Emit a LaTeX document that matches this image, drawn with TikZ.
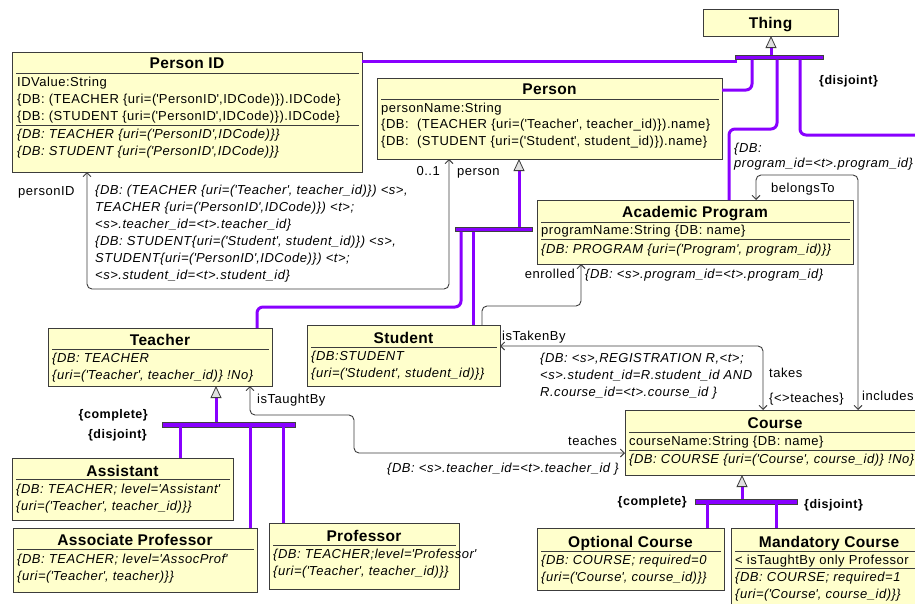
\documentclass[tikz,border=0pt]{standalone}
\usepackage{fontspec}
\usetikzlibrary{arrows.meta,calc}
\newfontfamily\umlfont{Liberation Sans}[LetterSpace=4]
\newfontfamily\umltitlefont{Liberation Sans}[LetterSpace=2]
\newcommand\fbody{\umlfont\fontsize{13}{15}\selectfont}
\newcommand\fital{\umlfont\itshape\fontsize{13}{15}\selectfont}
\newcommand\fbold{\umlfont\bfseries\fontsize{12.5}{15}\selectfont}
\newcommand\ftitle{\umltitlefont\bfseries\fontsize{15.5}{18}\selectfont}
\newcommand\sq{\textquotesingle}
\definecolor{classfill}{RGB}{255,255,204}
\definecolor{edge}{RGB}{60,60,60}
\definecolor{genline}{RGB}{136,0,255}

\begin{document}
\begin{tikzpicture}[x=1pt,y=-1pt,
  classbox/.style={draw=edge, fill=classfill, line width=0.9pt, anchor=north west, inner sep=0pt, outer sep=0pt},
  genbar/.style={draw=black!75, fill=genline, line width=0.6pt, anchor=north west, inner sep=0pt, outer sep=0pt},
  ctitle/.style={anchor=base, inner sep=0pt, font=\ftitle},
  attr/.style={anchor=base west, inner sep=0pt, font=\fbody},
  itl/.style={anchor=base west, inner sep=0pt, font=\fital},
  lbl/.style={anchor=base west, inner sep=0pt, font=\fbody},
  lblr/.style={anchor=base east, inner sep=0pt, font=\fbody},
  cons/.style={anchor=base west, inner sep=0pt, font=\fbold},
  consr/.style={anchor=base east, inner sep=0pt, font=\fbold},
  divider/.style={draw=edge, line width=0.8pt},
  gen/.style={draw=genline, line width=3pt, rounded corners=6pt},
  genup/.style={gen, -{Triangle[length=12pt,width=11pt,color=edge,fill=black!12,line width=0.8pt]}},
  assoc/.style={draw=edge, line width=0.9pt, rounded corners=5pt},
  assoc2/.style={assoc, {Straight Barb[length=4pt,width=8pt]}-{Straight Barb[length=4pt,width=8pt]}},
  assoc1/.style={assoc, -{Straight Barb[length=4pt,width=8pt]}}
]
\path[use as bounding box] (0,0) rectangle (915,603);
\clip (0,0) rectangle (915,603);

% ---------- classes ----------
\node[classbox, minimum width=135, minimum height=27] (thing) at (703,9) {};
\node[ctitle] (thing-t) at (770.5,28.5) {Thing};

\node[classbox, minimum width=350, minimum height=120] (personid) at (12,52) {};
\node[ctitle] (personid-t) at (187,68) {Person ID};
\draw[divider] (16,73) -- (359,73);
\node[attr] (personid-a1) at (17,86) {IDValue:String};
\node[attr] (personid-a2) at (17,103) {\{DB: (TEACHER \{uri=(\sq PersonID\sq,IDCode)\}).IDCode\}};
\node[attr] (personid-a3) at (17,120) {\{DB: (STUDENT \{uri=(\sq PersonID\sq,IDCode)\}).IDCode\}};
\draw[divider] (16,125) -- (359,125);
\node[itl] (personid-m1) at (17,138) {\{DB: TEACHER \{uri=(\sq PersonID\sq,IDCode)\}\}};
\node[itl] (personid-m2) at (17,155) {\{DB: STUDENT \{uri=(\sq PersonID\sq,IDCode)\}\}};

\node[classbox, minimum width=345, minimum height=81] (person) at (377,78) {};
\node[ctitle] (person-t) at (549.5,94) {Person};
\draw[divider] (381,99) -- (719,99);
\node[attr] (person-a1) at (381,112) {personName:String};
\node[attr] (person-a2) at (381,128.5) {\{DB:\ \ (TEACHER \{uri=(\sq Teacher\sq, teacher\_id)\}).name\}};
\node[attr] (person-a3) at (381,145) {\{DB:\ \ (STUDENT \{uri=(\sq Student\sq, student\_id)\}).name\}};

\node[classbox, minimum width=316, minimum height=64] (acadprog) at (537,200) {};
\node[ctitle] (acadprog-t) at (695,217) {Academic Program};
\draw[divider] (541,222) -- (850,222);
\node[attr] (acadprog-a1) at (541,234) {programName:String \{DB: name\}};
\draw[divider] (541,239) -- (850,239);
\node[itl] (acadprog-m1) at (541,253) {\{DB: PROGRAM \{uri=(\sq Program\sq, program\_id)\}\}};

\node[classbox, minimum width=224, minimum height=58] (teacher) at (48,328) {};
\node[ctitle] (teacher-t) at (160,345) {Teacher};
\draw[divider] (52,349) -- (269,349);
\node[itl] (teacher-m1) at (52,362) {\{DB: TEACHER};
\node[itl] (teacher-m2) at (52,379) {\{uri=(\sq Teacher\sq, teacher\_id)\} !No\}};

\node[classbox, minimum width=193, minimum height=61] (student) at (307,325) {};
\node[ctitle] (student-t) at (403.5,343) {Student};
\draw[divider] (311,347) -- (497,347);
\node[itl] (student-m1) at (311,360) {\{DB:STUDENT};
\node[itl] (student-m2) at (311,377) {\{uri=(\sq Student\sq, student\_id)\}\}};

\node[classbox, minimum width=300, minimum height=65] (course) at (625,410) {};
\node[ctitle] (course-t) at (775,428) {Course};
\draw[divider] (629,432) -- (922,432);
\node[attr] (course-a1) at (629,445) {courseName:String \{DB: name\}};
\draw[divider] (629,450) -- (922,450);
\node[itl] (course-m1) at (629,463) {\{DB: COURSE \{uri=(\sq Course\sq, course\_id)\} !No\}};

\node[classbox, minimum width=221, minimum height=62] (assistant) at (12,458) {};
\node[ctitle] (assistant-t) at (122.5,476) {Assistant};
\draw[divider] (16,479) -- (230,479);
\node[itl] (assistant-m1) at (16,493) {\{DB: TEACHER; level=\sq Assistant\sq};
\node[itl] (assistant-m2) at (16,510) {\{uri=(\sq Teacher\sq, teacher\_id)\}\}};

\node[classbox, minimum width=244, minimum height=64] (assocprof) at (13,528) {};
\node[ctitle] (assocprof-t) at (135,545) {Associate Professor};
\draw[divider] (17,549) -- (254,549);
\node[itl] (assocprof-m1) at (17,563) {\{DB: TEACHER; level=\sq AssocProf\sq};
\node[itl] (assocprof-m2) at (17,580) {\{uri=(\sq Teacher\sq, teacher)\}\}};

\node[classbox, minimum width=190, minimum height=66] (professor) at (269,523) {};
\node[ctitle] (professor-t) at (364,541) {Professor};
\draw[divider] (273,545) -- (456,545);
\node[itl] (professor-m1) at (273,558) {\{DB: TEACHER;level=\sq Professor\sq};
\node[itl] (professor-m2) at (273,575) {\{uri=(\sq Teacher\sq, teacher\_id)\}\}};

\node[classbox, minimum width=187, minimum height=62] (optional) at (537,528) {};
\node[ctitle] (optional-t) at (630.5,547) {Optional Course};
\draw[divider] (541,551) -- (721,551);
\node[itl] (optional-m1) at (541,564) {\{DB: COURSE; required=0};
\node[itl] (optional-m2) at (541,581) {\{uri=(\sq Course\sq, course\_id)\}\}};

\node[classbox, minimum width=196, minimum height=90] (mandatory) at (731,528) {};
\node[ctitle] (mandatory-t) at (829,547) {Mandatory Course};
\draw[divider] (735,551) -- (924,551);
\node[attr] (mandatory-a1) at (735,564) {< isTaughtBy only Professor};
\draw[divider] (735,568) -- (924,568);
\node[itl] (mandatory-m1) at (735,581) {\{DB: COURSE; required=1};
\node[itl] (mandatory-m2) at (735,598) {\{uri=(\sq Course\sq, course\_id)\}\}};

% ---------- generalization sets ----------
\node[genbar, minimum width=88, minimum height=4.5] (thingbar) at (735,55) {};
\node[genbar, minimum width=77, minimum height=4.5] (personbar) at (455,227) {};
\node[genbar, minimum width=133, minimum height=5] (teacherbar) at (162,422) {};
\node[genbar, minimum width=102, minimum height=5] (coursebar) at (695,499) {};

\coordinate (offright) at (930,135);

\draw[genup] ($(thingbar.north west)+(36,0)$) -- ($(thing.south west)+(68,0)$);
\draw[gen] ($(personid.north east)+(0,9)$) -- ($(thingbar.south west)+(1.5,1.5)$);
\draw[gen] ($(thingbar.south west)+(17,0)$) |- ($(person.north east)+(0,12)$);
\draw[gen] ($(thingbar.south west)+(42,0)$) -- ++(0,69.5) -| ($(acadprog.north west)+(192,0)$);
\draw[gen] ($(thingbar.south west)+(65,0)$) |- (offright);
\node[cons] (thing-dj) at (819,84) {\{disjoint\}};

\draw[genup] ($(personbar.north west)+(64,0)$) -- ($(person.south west)+(142,0)$);
\draw[gen] ($(personbar.south west)+(6,0)$) -- ++(0,75.5) -| ($(teacher.north west)+(209,0)$);
\draw[gen] ($(personbar.south west)+(18,0)$) -- ($(student.north west)+(166,0)$);

\draw[genup] ($(teacherbar.north west)+(54,0)$) -- ($(teacher.south west)+(168,0)$);
\draw[gen] ($(teacherbar.south west)+(18,0)$) -- ($(assistant.north west)+(168,0)$);
\draw[gen] ($(teacherbar.south west)+(88,0)$) -- ($(assocprof.north west)+(237,0)$);
\draw[gen] ($(teacherbar.south west)+(121,0)$) -- ($(professor.north west)+(14,0)$);
\node[consr] (teacher-cp) at (148,418) {\{complete\}};
\node[consr] (teacher-dj) at (147,438) {\{disjoint\}};

\draw[genup] ($(coursebar.north west)+(47,0)$) -- ($(course.south west)+(117,0)$);
\draw[gen] ($(coursebar.south west)+(12,0)$) -- ($(optional.north west)+(170,0)$);
\draw[gen] ($(coursebar.south west)+(81,0)$) -- ($(mandatory.north west)+(45,0)$);
\node[consr] (course-cp) at (687,505) {\{complete\}};
\node[cons] (course-dj) at (804,508) {\{disjoint\}};

% ---------- associations ----------
\draw[assoc2] ($(personid.south west)+(75,0)$) -- ++(0,117) -| ($(person.south west)+(72,0)$);
\node[lbl] (pid-role) at (18,195) {personID};
\node[lblr] (pid-mult) at (440,175) {0..1};
\node[lbl] (pid-role2) at (457,175) {person};
\node[itl] (pid-db1) at (95,194) {\{DB: (TEACHER \{uri=(\sq Teacher\sq, teacher\_id)\}) <s>,};
\node[itl] (pid-db2) at (95,211) {TEACHER \{uri=(\sq PersonID\sq,IDCode)\}) <t>;};
\node[itl] (pid-db3) at (95,228) {<s>.teacher\_id=<t>.teacher\_id\}};
\node[itl] (pid-db4) at (95,245) {\{DB: STUDENT\{uri=(\sq Student\sq, student\_id)\}) <s>,};
\node[itl] (pid-db5) at (95,262) {STUDENT\{uri=(\sq PersonID\sq,IDCode)\}) <t>;};
\node[itl] (pid-db6) at (95,279) {<s>.student\_id=<t>.student\_id\}};

\draw[assoc2] ($(acadprog.north west)+(219,0)$) -- ++(0,-25) -| ($(course.north west)+(233,0)$);
\node[lbl] (bt-role) at (771,192) {belongsTo};
\node[lbl] (bt-role2) at (862,400) {includes};
\node[itl] (bt-db1) at (734,152) {\{DB:};
\node[itl] (bt-db2) at (734,167) {program\_id=<t>.program\_id\}};

\draw[assoc1] ($(student.north west)+(175,0)$) -- ++(0,-19) -| ($(acadprog.south west)+(44,0)$);
\node[lblr] (en-role) at (575,278) {enrolled};
\node[itl] (en-db) at (585,278) {\{DB: <s>.program\_id=<t>.program\_id\}};

\draw[assoc2] ($(student.north east)+(0,21)$) -| ($(course.north west)+(138,0)$);
\node[lbl] (tk-role) at (502,340) {isTakenBy};
\node[lbl] (tk-role2) at (769,377) {takes};
\node[lbl] (tk-sub) at (769,402) {\{<>teaches\}};
\node[itl] (tk-db1) at (540,362) {\{DB: <s>,REGISTRATION R,<t>;};
\node[itl] (tk-db2) at (540,379) {<s>.student\_id=R.student\_id AND};
\node[itl] (tk-db3) at (540,396) {R.course\_id=<t>.course\_id \}};

\coordinate (tb-bend) at (354,415);
\draw[assoc2] ($(teacher.south west)+(202,0)$) |- (tb-bend) |- ($(course.north west)+(0,43)$);
\node[lbl] (tb-role) at (257,403) {isTaughtBy};
\node[lblr] (tb-role2) at (617,445) {teaches};
\node[itl] (tb-db) at (387,472) {\{DB: <s>.teacher\_id=<t>.teacher\_id \}};
\end{tikzpicture}
\end{document}
